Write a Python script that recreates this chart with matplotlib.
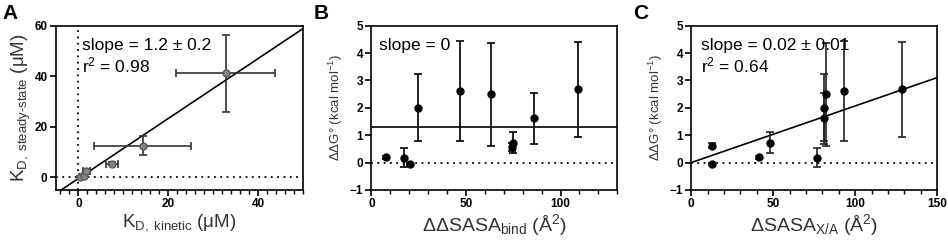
import numpy as np
import matplotlib
matplotlib.use("Agg")
import matplotlib.pyplot as plt
from matplotlib.ticker import MultipleLocator

plt.rcParams['font.family'] = ['Liberation Sans', 'DejaVu Sans']
plt.rcParams['mathtext.fontset'] = 'custom'
plt.rcParams['mathtext.rm'] = 'Liberation Sans'
plt.rcParams['mathtext.it'] = 'Liberation Sans'

# Panel A: KD kinetic vs KD steady-state
kd_kin = [0.4, 1.2, 1.8, 7.5, 14.3, 32.8]
kd_kin_err = [0.3, 0.5, 0.8, 1.4, 10.8, 11.0]
kd_ss = [0.3, 0.5, 2.4, 5.4, 12.5, 41.2]
kd_ss_err = [0.3, 0.5, 1.0, 0.5, 3.8, 15.2]
fit_a_slope, fit_a_icpt = 1.186, -0.46

# Panel B: ddSASA_bind vs ddG
sasa_bind = [7.7, 17.1, 20.6, 24.7, 47.0, 63.3, 74.3, 75.0, 85.8, 109.1]
ddg_b = [0.19, 0.18, -0.04, 2.0, 2.61, 2.49, 0.58, 0.73, 1.61, 2.68]
ddg_b_err = [0.05, 0.35, 0.04, 1.23, 1.82, 1.87, 0.15, 0.37, 0.93, 1.74]
mean_b = 1.30

# Panel C: dSASA_X/A vs ddG
sasa_xa = [12.4, 12.4, 41.1, 48.0, 76.4, 80.9, 80.9, 82.3, 93.3, 128.3]
ddg_c = [0.62, -0.04, 0.19, 0.73, 0.18, 2.0, 1.61, 2.49, 2.61, 2.68]
ddg_c_err = [0.1, 0.04, 0.05, 0.37, 0.35, 1.23, 0.93, 1.87, 1.82, 1.74]
fit_c_slope = 0.0207

fig = plt.figure(figsize=(9.48, 2.47), dpi=100)
axA = fig.add_axes([0.059, 0.231, 0.2606, 0.665])
axB = fig.add_axes([0.3917, 0.231, 0.2595, 0.665])
axC = fig.add_axes([0.7292, 0.231, 0.2595, 0.665])

label_color = '#333333'
note_size = 12.5


def style(ax):
    for s in ax.spines.values():
        s.set_linewidth(1.2)
    ax.tick_params(which='major', length=4, width=1.2, pad=2)
    ax.tick_params(which='minor', length=3, width=1.0)
    for lab in ax.get_xticklabels() + ax.get_yticklabels():
        lab.set_fontsize(8.5)
        lab.set_fontweight('bold')


# A
axA.axhline(0, color='k', ls=(0, (1, 2.5)), lw=1.3, zorder=1)
axA.axvline(0, color='k', ls=(0, (1, 2.5)), lw=1.3, zorder=1)
xl = np.array([-5, 50])
axA.plot(xl, fit_a_slope * xl + fit_a_icpt, color='k', lw=1.2, zorder=2)
axA.errorbar(kd_kin, kd_ss, xerr=kd_kin_err, yerr=kd_ss_err, fmt='o', ms=5,
             mfc='#858585', mec='#5a5a5a', ecolor='#333333', elinewidth=1.2,
             capsize=3, capthick=1.2, zorder=3)
axA.set_xlim(-5, 50)
axA.set_ylim(-5, 60)
axA.xaxis.set_major_locator(MultipleLocator(20))
axA.xaxis.set_minor_locator(MultipleLocator(2))
axA.yaxis.set_major_locator(MultipleLocator(20))
axA.text(0.105, 0.88, 'slope = 1.2 ± 0.2', transform=axA.transAxes, fontsize=note_size,
         va='center')
axA.text(0.105, 0.755, 'r$^2$ = 0.98', transform=axA.transAxes, fontsize=note_size,
         va='center')
axA.set_xlabel(r'K$_{\mathrm{D,\ kinetic}}$ (μM)', fontsize=13.5, color=label_color, labelpad=1)
axA.set_ylabel(r'K$_{\mathrm{D,\ steady‐state}}$ (μM)', fontsize=13.5, color=label_color, labelpad=1)
style(axA)

# B
axB.axhline(0, color='k', ls=(0, (1, 2.5)), lw=1.3, zorder=1)
axB.axhline(mean_b, color='k', lw=1.2, zorder=2)
axB.errorbar(sasa_bind, ddg_b, yerr=ddg_b_err, fmt='o', ms=5, mfc='k', mec='k',
             ecolor='k', elinewidth=1.2, capsize=3, capthick=1.2, zorder=3)
axB.set_xlim(0, 130)
axB.set_ylim(-1, 5)
axB.xaxis.set_major_locator(MultipleLocator(50))
axB.xaxis.set_minor_locator(MultipleLocator(10))
axB.yaxis.set_major_locator(MultipleLocator(1))
axB.text(0.033, 0.88, 'slope = 0', transform=axB.transAxes, fontsize=note_size, va='center')
axB.set_xlabel(r'ΔΔSASA$_{\mathrm{bind}}$ (Å$^2$)', fontsize=14, color=label_color, labelpad=1)
axB.set_ylabel(r'ΔΔG° (kcal mol$^{-1}$)', fontsize=9.5, color=label_color, labelpad=3)
style(axB)

# C
axC.axhline(0, color='k', ls=(0, (1, 2.5)), lw=1.3, zorder=1)
xc = np.array([0, 150])
axC.plot(xc, fit_c_slope * xc, color='k', lw=1.2, zorder=2)
axC.errorbar(sasa_xa, ddg_c, yerr=ddg_c_err, fmt='o', ms=5, mfc='k', mec='k',
             ecolor='#222222', elinewidth=1.2, capsize=3, capthick=1.2, zorder=3)
axC.set_xlim(0, 150)
axC.set_ylim(-1, 5)
axC.xaxis.set_major_locator(MultipleLocator(50))
axC.xaxis.set_minor_locator(MultipleLocator(10))
axC.yaxis.set_major_locator(MultipleLocator(1))
axC.text(0.038, 0.88, 'slope = 0.02 ± 0.01', transform=axC.transAxes, fontsize=note_size,
         va='center')
axC.text(0.038, 0.755, 'r$^2$ = 0.64', transform=axC.transAxes, fontsize=note_size, va='center')
axC.set_xlabel(r'ΔSASA$_{\mathrm{X/A}}$ (Å$^2$)', fontsize=14, color=label_color, labelpad=1)
axC.set_ylabel(r'ΔΔG° (kcal mol$^{-1}$)', fontsize=9.5, color=label_color, labelpad=3)
style(axC)

for lbl, x in [('A', 0.003), ('B', 0.331), ('C', 0.668)]:
    fig.text(x, 0.985, lbl, fontsize=15, fontweight='bold', va='top')

fig.savefig('out.png', dpi=100)
